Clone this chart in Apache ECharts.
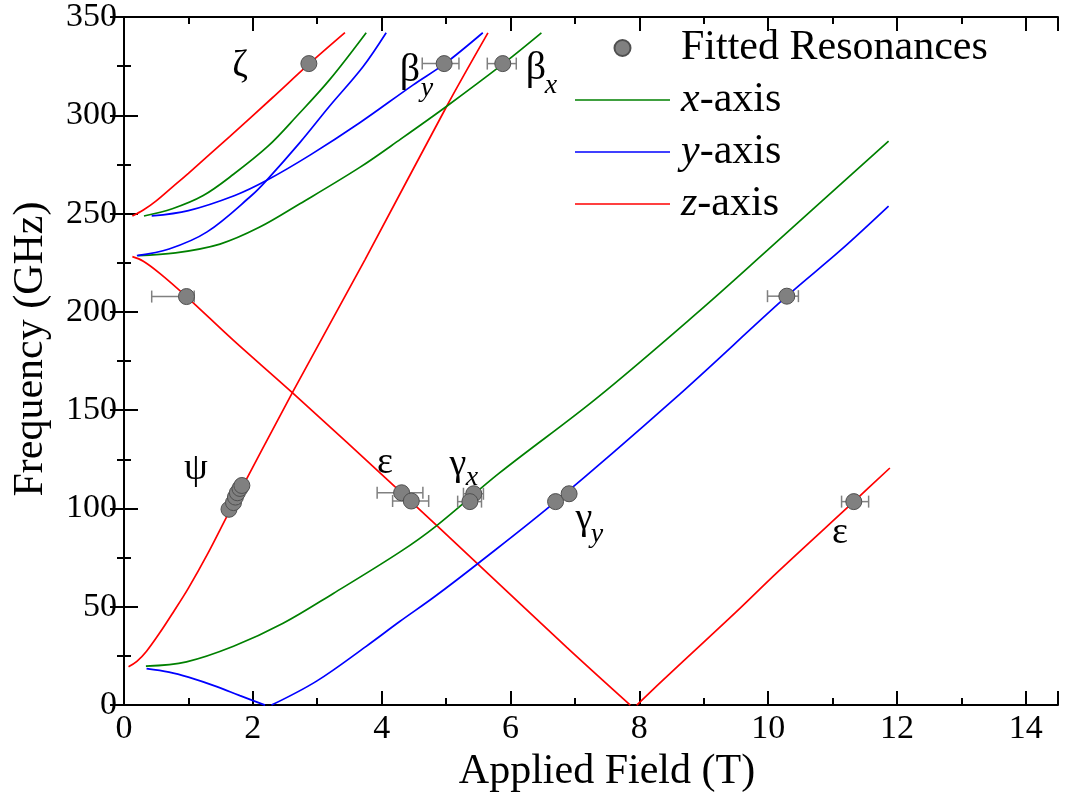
<!DOCTYPE html>
<html>
<head>
    <meta charset="utf-8">
    <title>Fitted Resonances</title>
    <script src="https://cdn.jsdelivr.net/npm/echarts@6/dist/echarts.min.js"></script>
    <style>
        html, body { margin: 0; padding: 0; background: #ffffff; }
        #main { width: 1070px; height: 798px; }
    </style>
</head>
<body>
<div id="main"></div>
<script>
    // calculated branches, [field T, frequency GHz]
    var zUpper = [[0.13, 248.8], [0.3, 251.8], [0.5, 256.5], [0.75, 263.5], [1.0, 270.5], [1.64, 289.2], [2.3, 308.8], [2.87, 326], [3.43, 342]];
    var zFalling = [[0.13, 228.1], [0.3, 225.8], [0.56, 219.5], [0.97, 207.8], [1.7, 185.5], [2.6, 159.3], [4.31, 108], [5.47, 72.5], [6.87, 29.5], [7.86, 0]];
    var zRising = [[7.96, 0], [8.5, 16.8], [9.5, 47.3], [10.15, 67.8], [11.33, 103.5], [11.89, 120.6]];
    var zSteep = [[0.07, 19.5], [0.2, 22.2], [0.35, 27.4], [0.55, 36.5], [0.76, 47], [1.0, 59.5], [1.3, 77], [1.63, 98], [2.62, 159.3], [3.74, 226.5], [5.01, 304.6], [5.65, 341.9]];

    var xUpper = [[0.31, 248.8], [0.75, 252.5], [1.23, 259.2], [1.7, 270], [2.24, 284.4], [2.68, 299.5], [3.19, 318], [3.76, 342]];
    var xMiddle = [[0.22, 228.6], [0.8, 230], [1.49, 234.5], [2.1, 243], [2.73, 255], [3.66, 273.5], [4.3, 288], [5.01, 304.6], [5.88, 326], [6.48, 341.9]];
    var xLower = [[0.34, 19.8], [0.97, 22], [1.7, 29.9], [2.47, 41.6], [3.25, 56.8], [4.28, 77.8], [4.85, 91.2], [5.83, 118.1], [7.33, 155.9], [8.93, 200.4], [9.99, 231.4], [11.87, 286.9]];

    var yUpper = [[0.43, 248.8], [1.0, 251.5], [1.72, 259.2], [2.21, 266.8], [2.9, 280], [3.66, 296.2], [4.49, 315.5], [4.97, 326], [5.57, 342]];
    var ySteep = [[0.2, 228.6], [0.7, 232], [1.29, 240.7], [1.98, 259.2], [2.21, 266.8], [2.73, 286.1], [3.19, 304.6], [3.71, 324.7], [4.07, 342]];
    var yFalling = [[0.35, 18.6], [0.7, 16.8], [1.0, 14.2], [1.44, 9.4], [1.8, 4.8], [2.19, 0]];
    var yRising = [[2.29, 0], [2.99, 12.2], [3.76, 29.9], [4.28, 42.5], [4.82, 55.1], [5.49, 71.9], [6.7, 103.5], [8.55, 155.9], [10.29, 208], [11.13, 231.5], [11.87, 253.8]];

    // fitted resonances: field, frequency, field error low, field error high
    var resField = [2.87, 4.97, 5.88, 0.97, 10.29, 11.33, 1.63, 1.70, 1.73, 1.76, 1.80, 1.83, 4.31, 4.46, 5.43, 5.37, 6.70, 6.91];
    var resFreq = [326.3, 326.3, 326.3, 207.8, 208, 103.5, 99.6, 103, 105.8, 108, 110.2, 111.7, 108, 103.8, 107.5, 103.5, 103.5, 107.5];
    var resLow = [2.80, 4.63, 5.64, 0.43, 9.99, 11.14, 1.58, 1.65, 1.68, 1.71, 1.75, 1.78, 3.93, 4.17, 5.27, 5.18, 6.62, 6.83];
    var resHigh = [2.94, 5.20, 6.09, 1.09, 10.47, 11.56, 1.68, 1.75, 1.78, 1.81, 1.85, 1.88, 4.64, 4.73, 5.58, 5.55, 6.78, 6.99];

    var xTicks = [0, 2, 4, 6, 8, 10, 12, 14];
    var legendNames = ['Fitted Resonances', 'x-axis', 'y-axis', 'z-axis'];

    var serif = "'Liberation Serif', 'Times New Roman', Times, serif";
    var chart = echarts.init(document.getElementById('main'));

    var resData = resField.map(function (v, i) {
        return [v, resFreq[i], resLow[i], resHigh[i]];
    });

    function branch(name, color, data) {
        return {
            name: name,
            type: 'line',
            data: data,
            symbol: 'none',
            smooth: 0.35,
            lineStyle: {color: color, width: 1.7},
            itemStyle: {color: color},
            z: 2
        };
    }

    function frameX(pos, interval, len, labels) {
        return {
            type: 'value', position: pos, min: 0, max: 14.5, interval: interval,
            axisLine: {show: interval === 2, lineStyle: {color: '#000', width: 2}},
            axisTick: {inside: true, length: len, lineStyle: {color: '#000', width: 2}},
            axisLabel: labels ? {
                show: true, color: '#000', fontFamily: serif, fontSize: 34, margin: 7,
                formatter: function (v) { return xTicks.indexOf(v) >= 0 ? String(v) : ''; }
            } : {show: false},
            splitLine: {show: false}
        };
    }

    function frameY(pos, labels) {
        return {
            type: 'value', position: pos, min: 0, max: 350, interval: 50,
            axisLine: {show: true, lineStyle: {color: '#000', width: 2}},
            axisTick: {inside: true, length: 14, lineStyle: {color: '#000', width: 2}},
            minorTick: {show: true, splitNumber: 2, length: 7, lineStyle: {color: '#000', width: 2}},
            axisLabel: labels ? {show: true, color: '#000', fontFamily: serif, fontSize: 34, margin: 7} : {show: false},
            splitLine: {show: false}
        };
    }

    var xMain = frameX('bottom', 2, 14, true);
    xMain.name = 'Applied Field (T)';
    xMain.nameLocation = 'middle';
    xMain.nameGap = 40;
    xMain.nameTextStyle = {color: '#000', fontFamily: serif, fontSize: 42, padding: [0, 0, 0, 32]};

    var yMain = frameY('left', true);
    yMain.name = 'Frequency (GHz)';
    yMain.nameLocation = 'middle';
    yMain.nameGap = 72;
    yMain.nameTextStyle = {color: '#000', fontFamily: serif, fontSize: 42, padding: [0, 0, 0, 24]};

    function note(text, x, y, size, italic) {
        return {
            type: 'text', x: x, y: y, z: 10,
            style: {
                text: text, fill: '#000', align: 'center', verticalAlign: 'middle',
                font: (italic ? 'italic ' : '') + size + 'px ' + serif
            }
        };
    }

    var lineIcon = 'path://M0,0H60V1H0Z';

    var option = {
        animation: false,
        backgroundColor: '#ffffff',
        grid: {left: 124, right: 12, top: 15, bottom: 89},
        xAxis: [xMain, frameX('bottom', 1, 7, false), frameX('top', 2, 14, false), frameX('top', 1, 7, false)],
        yAxis: [yMain, frameY('right', false)],
        legend: {
            data: [
                {name: legendNames[0]},
                {name: legendNames[1], icon: lineIcon},
                {name: legendNames[2], icon: lineIcon},
                {name: legendNames[3], icon: lineIcon}
            ],
            orient: 'vertical',
            left: 575, top: 26,
            padding: 0,
            itemWidth: 95, itemHeight: 16, itemGap: 8,
            formatter: function (n) {
                return n === 'Fitted Resonances' ? n : '{i|' + n.charAt(0) + '}' + n.slice(1);
            },
            textStyle: {
                color: '#000', fontFamily: serif, fontSize: 42, lineHeight: 44, padding: [0, 0, 0, 6],
                rich: {i: {fontStyle: 'italic', fontFamily: serif, fontSize: 42, lineHeight: 44, color: '#000'}}
            }
        },
        series: [
            branch('z-axis', '#ff0000', zUpper),
            branch('z-axis', '#ff0000', zFalling),
            branch('z-axis', '#ff0000', zRising),
            branch('z-axis', '#ff0000', zSteep),
            branch('x-axis', '#008000', xUpper),
            branch('x-axis', '#008000', xMiddle),
            branch('x-axis', '#008000', xLower),
            branch('y-axis', '#0000ff', yUpper),
            branch('y-axis', '#0000ff', ySteep),
            branch('y-axis', '#0000ff', yFalling),
            branch('y-axis', '#0000ff', yRising),
            {
                type: 'custom',
                data: resData,
                encode: {x: [0, 2, 3], y: 1},
                z: 3,
                renderItem: function (params, api) {
                    var f = api.value(1);
                    var a = api.coord([api.value(2), f]);
                    var b = api.coord([api.value(3), f]);
                    var st = {stroke: '#808080', lineWidth: 1.5};
                    return {
                        type: 'group',
                        children: [
                            {type: 'line', shape: {x1: a[0], y1: a[1], x2: b[0], y2: b[1]}, style: st},
                            {type: 'line', shape: {x1: a[0], y1: a[1] - 6, x2: a[0], y2: a[1] + 6}, style: st},
                            {type: 'line', shape: {x1: b[0], y1: b[1] - 6, x2: b[0], y2: b[1] + 6}, style: st}
                        ]
                    };
                }
            },
            {
                name: 'Fitted Resonances',
                type: 'scatter',
                data: resData,
                encode: {x: 0, y: 1},
                symbol: 'circle',
                symbolSize: 16,
                z: 4,
                itemStyle: {color: '#808080', borderColor: '#505050', borderWidth: 1, opacity: 1}
            }
        ],
        graphic: [
            note('ζ', 240, 66, 38),
            note('β', 410, 70, 40),
            note('y', 427, 89, 28, true),
            note('β', 536, 68, 40),
            note('x', 551, 86, 28, true),
            note('ψ', 196, 469, 38),
            note('ε', 385, 463, 38),
            note('γ', 458, 465, 38),
            note('x', 472, 478, 28, true),
            note('γ', 584, 519, 38),
            note('y', 597, 535, 28, true),
            note('ε', 840, 533, 38)
        ]
    };
    chart.setOption(option);
</script>
</body>
</html>
